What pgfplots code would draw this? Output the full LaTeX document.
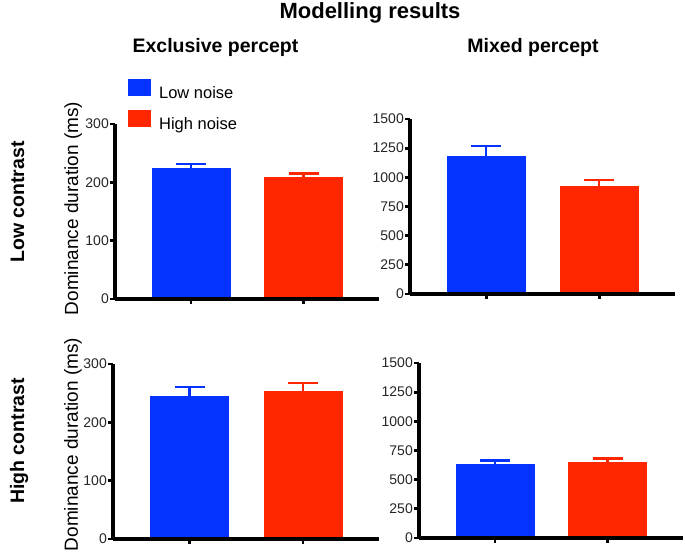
\documentclass[border=0pt]{standalone}
\usepackage{fontspec}
\setmainfont{Liberation Sans}
\usepackage{pgfplots}
\pgfplotsset{compat=1.18}
\definecolor{pblue}{HTML}{0433FF}
\definecolor{pred}{HTML}{FF2600}
\pgfplotsset{
  panel/.style={
    scale only axis, height=175pt,
    axis x line*=bottom, axis y line*=left,
    axis line style={line width=3.2pt, black},
    major tick style={line width=2.8pt, black},
    tick align=outside, major tick length=5pt,
    axis on top,
    ymin=0, xmin=-0.675, xmax=1.67,
    xtick={0,1}, xticklabels={},
    yticklabel style={font=\fontsize{14}{14}\selectfont, text=black!85, inner sep=1pt},
    /pgf/number format/assume math mode=true,
    /pgf/number format/1000 sep={},
    ybar, bar width=78pt,
    ylabel style={font=\fontsize{19}{19}\selectfont, anchor=base},
    legend image code/.code={\fill[##1] (0pt,-1.5pt) rectangle (21.7pt,14pt);},
  },
  pbar/.style={fill=#1, draw=#1, line width=0.5pt, bar shift=0pt,
    error bars/.cd, y dir=plus, y explicit,
    error bar style={line width=2.4pt, #1},
    error mark options={rotate=90, mark size=15pt, line width=2.4pt, #1},
    /pgfplots/.cd},
}
\begin{document}
\begin{tikzpicture}[x=1pt,y=1pt]
% Top left: Low contrast, exclusive percept
\begin{axis}[panel, at={(115pt,258pt)}, anchor=south west, width=264pt,
  ymax=300, ytick={0,100,200,300},
  ylabel={Dominance duration (ms)},
  ylabel style={at={(axis description cs:-0.140,0.517)}},
  legend style={at={(axis description cs:0.0492,1.2571)}, anchor=north west,
    draw=none, fill=none, inner sep=0pt, outer sep=0pt,
    font=\fontsize{16.5}{16.5}\selectfont, row sep=10.5pt,
    nodes={inner sep=0pt},
    /tikz/every odd column/.append style={column sep=9pt}},
  legend cell align=left]
\addlegendimage{fill=pblue, draw=pblue}
\addlegendentry{Low noise}
\addlegendimage{fill=pred, draw=pred}
\addlegendentry{High noise}
\addplot[forget plot, pbar=pblue] coordinates {(0,224) +- (0,7)};
\addplot[forget plot, pbar=pred] coordinates {(1,208) +- (0,7)};
\end{axis}
% Top right: Low contrast, mixed percept
\begin{axis}[panel, at={(410pt,263pt)}, anchor=south west, width=265pt,
  ymax=1500, ytick={0,250,500,750,1000,1250,1500}]
\addplot[pbar=pblue] coordinates {(0,1183) +- (0,88)};
\addplot[pbar=pred] coordinates {(1,926) +- (0,51)};
\end{axis}
% Bottom left: High contrast, exclusive percept
\begin{axis}[panel, at={(113pt,18pt)}, anchor=south west, width=266pt,
  ymax=300, ytick={0,100,200,300},
  ylabel={Dominance duration (ms)},
  ylabel style={at={(axis description cs:-0.1316,0.54)}}]
\addplot[pbar=pblue] coordinates {(0,245) +- (0,16)};
\addplot[pbar=pred] coordinates {(1,252.5) +- (0,14.5)};
\end{axis}
% Bottom right: High contrast, mixed percept
\begin{axis}[panel, at={(419pt,19pt)}, anchor=south west, width=264pt,
  ymax=1500, ytick={0,250,500,750,1000,1250,1500}]
\addplot[pbar=pblue] coordinates {(0,635) +- (0,28)};
\addplot[pbar=pred] coordinates {(1,646) +- (0,34)};
\end{axis}
% Titles
\node[anchor=base, font=\fontsize{22}{22}\selectfont\bfseries] at (370,538.5) {Modelling results};
\node[anchor=base, font=\fontsize{19.5}{19.5}\selectfont\bfseries] at (215.5,504.3) {Exclusive percept};
\node[anchor=base, font=\fontsize{19.5}{19.5}\selectfont\bfseries] at (533,504.3) {Mixed percept};
\node[anchor=base, rotate=90, font=\fontsize{19.5}{19.5}\selectfont\bfseries] at (24,355) {Low contrast};
\node[anchor=base, rotate=90, font=\fontsize{19.5}{19.5}\selectfont\bfseries] at (24,116) {High contrast};
\pgfresetboundingbox
\path (0,0) rectangle (685,557);
\end{tikzpicture}
\end{document}
